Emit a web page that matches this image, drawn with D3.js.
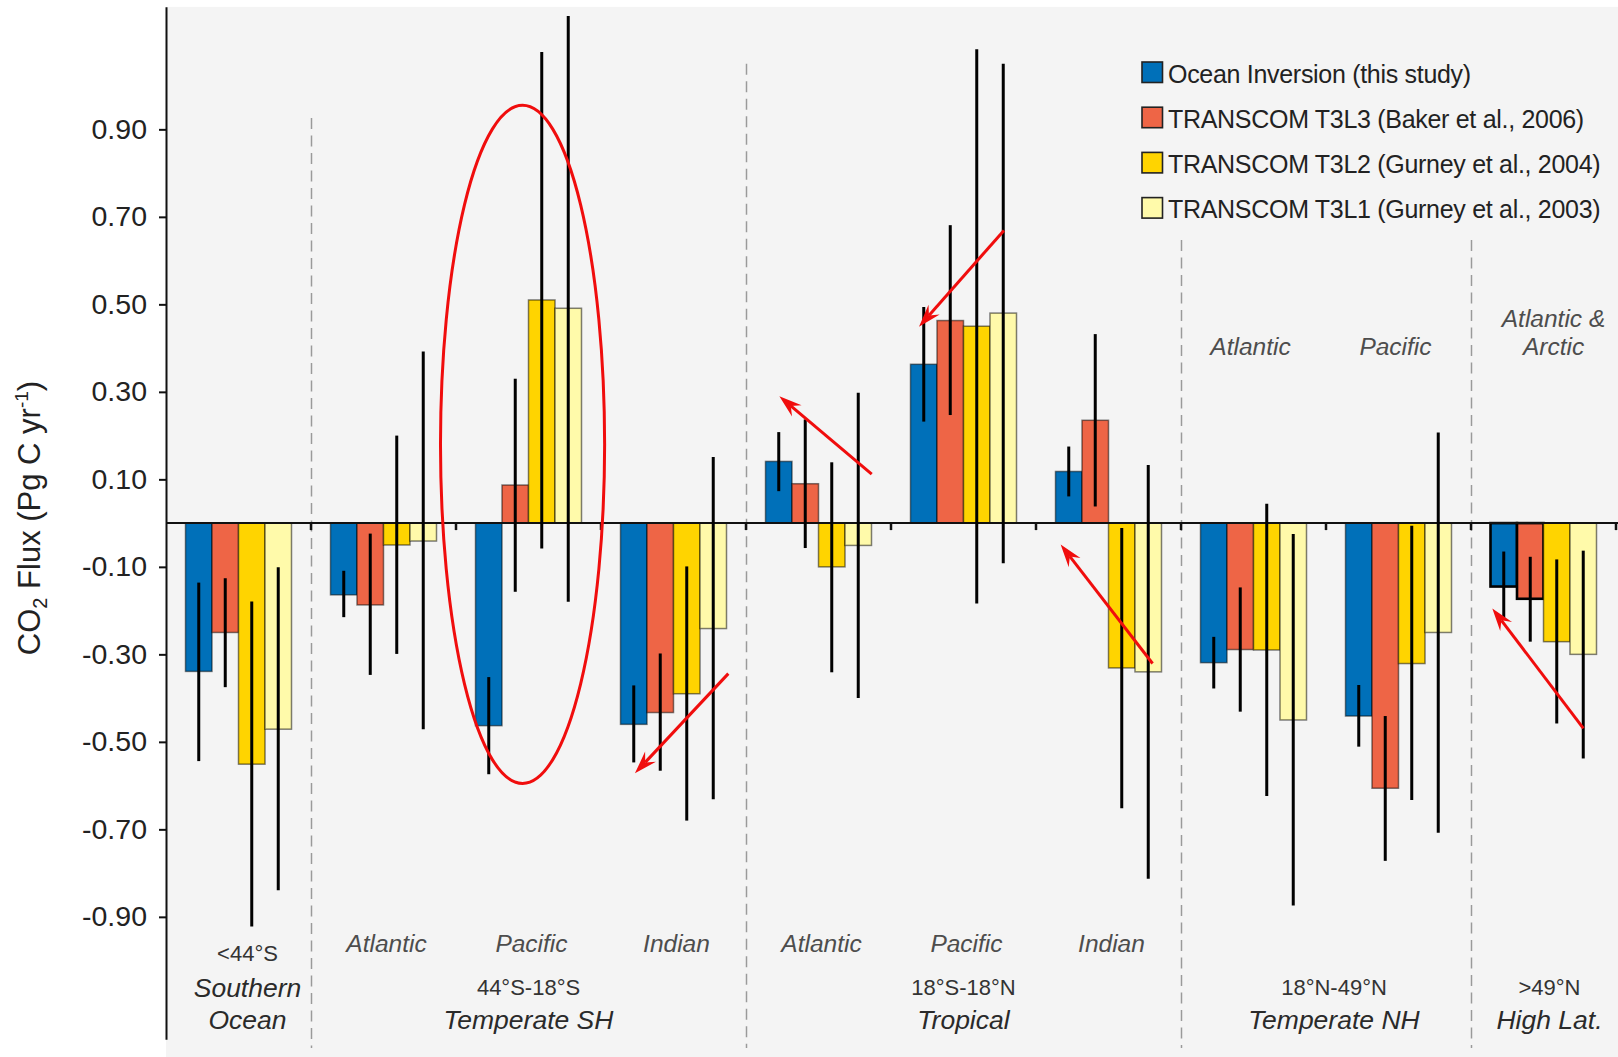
<!DOCTYPE html>
<html>
<head>
<meta charset="utf-8">
<script src="https://cdn.jsdelivr.net/npm/d3@7"></script>
<style>
  html, body { margin: 0; padding: 0; background: #ffffff; }
  svg { display: block; font-family: "Liberation Sans", Arial, Helvetica, sans-serif; }
</style>
</head>
<body>
<svg id="chart" width="1618" height="1057"></svg>
<script>
// ---- Regional ocean CO2 flux estimates (Pg C / yr) ----
const categories = [
  "Southern Ocean",
  "Temperate SH Atlantic", "Temperate SH Pacific", "Temperate SH Indian",
  "Tropical Atlantic", "Tropical Pacific", "Tropical Indian",
  "Temperate NH Atlantic", "Temperate NH Pacific",
  "High Latitudes"
];

const seriesNames = [
  "Ocean Inversion (this study)",
  "TRANSCOM T3L3 (Baker et al., 2006)",
  "TRANSCOM T3L2 (Gurney et al., 2004)",
  "TRANSCOM T3L1 (Gurney et al., 2003)"
];
const seriesColors = ["#0070b9", "#ee6546", "#ffd400", "#fffaaa"];

const oceanInversion = [-0.339, -0.164, -0.463, -0.460, 0.141, 0.363, 0.118, -0.319, -0.441, -0.145];
const oceanInversionRange = [
  [-0.544, -0.136], [-0.215, -0.109], [-0.574, -0.352], [-0.547, -0.371], [0.073, 0.208],
  [0.232, 0.494], [0.061, 0.175], [-0.378, -0.260], [-0.511, -0.370], [-0.218, -0.065]
];

const t3l3 = [-0.250, -0.187, 0.087, -0.433, 0.090, 0.463, 0.235, -0.289, -0.606, -0.173];
const t3l3Range = [
  [-0.375, -0.126], [-0.347, -0.024], [-0.157, 0.330], [-0.566, -0.298], [-0.057, 0.237],
  [0.247, 0.681], [0.038, 0.432], [-0.431, -0.147], [-0.772, -0.441], [-0.271, -0.077]
];

const t3l2 = [-0.551, -0.050, 0.510, -0.390, -0.100, 0.450, -0.331, -0.290, -0.321, -0.271];
const t3l2Range = [
  [-0.922, -0.179], [-0.299, 0.200], [-0.058, 1.077], [-0.680, -0.099], [-0.341, 0.139],
  [-0.184, 1.083], [-0.652, -0.011], [-0.624, 0.044], [-0.633, -0.006], [-0.458, -0.083]
];

const t3l1 = [-0.471, -0.041, 0.491, -0.241, -0.051, 0.480, -0.340, -0.450, -0.250, -0.300];
const t3l1Range = [
  [-0.839, -0.101], [-0.471, 0.392], [-0.180, 1.159], [-0.631, 0.151], [-0.400, 0.298],
  [-0.092, 1.050], [-0.813, 0.133], [-0.874, -0.025], [-0.708, 0.207], [-0.538, -0.063]
];

const seriesValues = [oceanInversion, t3l3, t3l2, t3l1];
const seriesRanges = [oceanInversionRange, t3l3Range, t3l2Range, t3l1Range];

// bars drawn with a heavier black outline: [category index, series index]
const boxedBars = [[9, 0], [9, 1]];

const tickValues = [0.9, 0.7, 0.5, 0.3, 0.1, -0.1, -0.3, -0.5, -0.7, -0.9];
const tickLabels = ["0.90", "0.70", "0.50", "0.30", "0.10", "-0.10", "-0.30", "-0.50", "-0.70", "-0.90"];

// region grouping along the x axis
const regionNames = [["Southern", "Ocean"], ["Temperate SH"], ["Tropical"], ["Temperate NH"], ["High Lat."]];
const regionBands = ["<44°S", "44°S-18°S", "18°S-18°N", "18°N-49°N", ">49°N"];
const regionFirst = [0, 1, 4, 7, 9];
const regionLast = [0, 3, 6, 8, 9];

const basinLower = [null, "Atlantic", "Pacific", "Indian", "Atlantic", "Pacific", "Indian", null, null, null];
const basinUpper = [null, null, null, null, null, null, null, ["Atlantic"], ["Pacific"], ["Atlantic &", "Arctic"]];

// dashed separators: category index they precede, and the flux value where each starts
const separatorAt = [1, 4, 7, 9];
const separatorTop = [0.926, 1.050, 0.647, 0.647];

// red highlight annotations, in (category, fraction of band, flux) terms
const highlightEllipse = { cat: 2, frac: 0.459, value: 0.180, halfBands: 0.566, halfValue: 0.775 };
const arrowNotes = [
  { cat: 3, from: [0.878, -0.344], to: [0.234, -0.572] },
  { cat: 4, from: [0.867, 0.112], to: [0.230, 0.290] },
  { cat: 5, from: [0.779, 0.669], to: [0.193, 0.449] },
  { cat: 6, from: [0.804, -0.321], to: [0.170, -0.049] },
  { cat: 9, from: [0.775, -0.469], to: [0.147, -0.195] }
];

// ---- scales ----
const W = 1618, H = 1057;
const axisX = 166;
const svg = d3.select("#chart");

const x = d3.scaleBand().domain(categories).range([axisX, 1616]).paddingInner(0).paddingOuter(0);
const xs = d3.scaleBand().domain(d3.range(seriesNames.length)).range([0, x.bandwidth()])
  .paddingInner(0).paddingOuter(0.736);
const y = d3.scaleLinear().domain([-1.18, 1.18]).range([1039.35, 6.85]);

// plot background
svg.append("rect")
  .attr("x", axisX).attr("y", y(1.18))
  .attr("width", W - axisX).attr("height", H - y(1.18))
  .attr("fill", "#f4f4f4");

// dashed region separators
svg.append("g").selectAll("line")
  .data(separatorAt)
  .join("line")
  .attr("x1", d => x(categories[d]) + 0.5)
  .attr("x2", d => x(categories[d]) + 0.5)
  .attr("y1", (d, i) => y(separatorTop[i]))
  .attr("y2", y(-1.2))
  .attr("stroke", "#9a9a9a")
  .attr("stroke-width", 1.5)
  .attr("stroke-dasharray", "11,6.5");

// bars
const barData = [];
seriesValues.forEach((vals, s) => {
  vals.forEach((v, i) => barData.push({ s, i, v, r: seriesRanges[s][i] }));
});
const isBoxed = d => boxedBars.some(b => b[0] === d.i && b[1] === d.s);

svg.append("g").selectAll("rect")
  .data(barData)
  .join("rect")
  .attr("x", d => x(categories[d.i]) + xs(d.s))
  .attr("width", xs.bandwidth())
  .attr("y", d => y(Math.max(0, d.v)))
  .attr("height", d => Math.abs(y(d.v) - y(0)))
  .attr("fill", d => seriesColors[d.s])
  .attr("stroke", "#000")
  .attr("stroke-opacity", d => isBoxed(d) ? 1 : 0.5)
  .attr("stroke-width", d => isBoxed(d) ? 2.6 : 1.5);

// zero line with small ticks at category boundaries
svg.append("line")
  .attr("x1", axisX).attr("x2", W)
  .attr("y1", y(0)).attr("y2", y(0))
  .attr("stroke", "#111").attr("stroke-width", 2);

const boundaryX = categories.slice(1).map(c => x(c)).concat([x.range()[1]]);
svg.append("g").selectAll("line")
  .data(boundaryX)
  .join("line")
  .attr("x1", d => d).attr("x2", d => d)
  .attr("y1", y(0)).attr("y2", y(0) + 7)
  .attr("stroke", "#111").attr("stroke-width", 2.5);

// uncertainty ranges
svg.append("g").selectAll("line")
  .data(barData)
  .join("line")
  .attr("x1", d => x(categories[d.i]) + xs(d.s) + xs.bandwidth() / 2)
  .attr("x2", d => x(categories[d.i]) + xs(d.s) + xs.bandwidth() / 2)
  .attr("y1", d => y(d.r[0]))
  .attr("y2", d => y(d.r[1]))
  .attr("stroke", "#000")
  .attr("stroke-width", 3);

// y axis
const yAxis = d3.axisLeft(y)
  .tickValues(tickValues)
  .tickFormat((d, i) => tickLabels[i])
  .tickSize(7)
  .tickSizeOuter(0)
  .tickPadding(12);

const gy = svg.append("g").attr("transform", `translate(${axisX},0)`).call(yAxis);
gy.select(".domain").attr("stroke", "#111").attr("stroke-width", 2);
gy.selectAll(".tick line").attr("stroke", "#111").attr("stroke-width", 2);
gy.selectAll(".tick text")
  .attr("fill", "#222")
  .style("font-size", "28.5px")
  .style("font-family", "'Liberation Sans', Arial, sans-serif");

// y axis title
const yTitle = svg.append("text")
  .attr("transform", "translate(40,518) rotate(-90)")
  .attr("text-anchor", "middle")
  .attr("fill", "#222")
  .style("font-size", "31px");
yTitle.append("tspan").text("CO");
yTitle.append("tspan").text("2").style("font-size", "20px").attr("dy", 7);
yTitle.append("tspan").text(" Flux (Pg C yr").attr("dy", -7);
yTitle.append("tspan").text("-1").style("font-size", "19px").attr("dy", -12);
yTitle.append("tspan").text(")").attr("dy", 12);

// basin labels
const bandCenter = i => x(categories[i]) + x.bandwidth() / 2;
const labels = svg.append("g");

basinLower.forEach((t, i) => {
  if (!t) return;
  labels.append("text")
    .attr("x", bandCenter(i) + 3).attr("y", 951.5)
    .attr("text-anchor", "middle")
    .attr("fill", "#4d4d4d")
    .style("font-style", "italic").style("font-size", "24.5px")
    .text(t);
});

basinUpper.forEach((lines, i) => {
  if (!lines) return;
  lines.forEach((t, k) => {
    labels.append("text")
      .attr("x", bandCenter(i) + (i === 9 ? 10 : -3)).attr("y", 355 - (lines.length - 1 - k) * 28.3)
      .attr("text-anchor", "middle")
      .attr("fill", "#4d4d4d")
      .style("font-style", "italic").style("font-size", "24.5px")
      .text(t);
  });
});

// region labels (latitude band + region name)
regionNames.forEach((names, r) => {
  const cx = (x(categories[regionFirst[r]]) + x(categories[regionLast[r]]) + x.bandwidth()) / 2;
  const shift = r === 0 ? 9 : (r === 3 ? 8 : (r === 4 ? 6 : 0));
  labels.append("text")
    .attr("x", cx + shift).attr("y", r === 0 ? 961 : 994.7)
    .attr("text-anchor", "middle")
    .attr("fill", "#333")
    .style("font-size", "22px")
    .text(regionBands[r]);
  names.forEach((t, k) => {
    labels.append("text")
      .attr("x", cx + shift).attr("y", 1029 - (names.length - 1 - k) * 32.5)
      .attr("text-anchor", "middle")
      .attr("fill", "#2a2a2a")
      .style("font-style", "italic").style("font-size", "26.5px")
      .text(t);
  });
});

// legend
const legend = svg.append("g").attr("transform", "translate(1142,62)");
const rows = legend.selectAll("g").data(seriesNames).join("g")
  .attr("transform", (d, i) => `translate(0,${i * 45.2})`);
rows.append("rect")
  .attr("width", 20.5).attr("height", 20.5)
  .attr("fill", (d, i) => seriesColors[i])
  .attr("stroke", "#222").attr("stroke-width", 1.6);
rows.append("text")
  .attr("x", 26).attr("y", 20.7)
  .attr("fill", "#222")
  .style("font-size", "25px")
  .style("letter-spacing", "-0.3px")
  .text(d => d);

// red annotations
const annot = svg.append("g");
const px = (cat, frac) => x(categories[cat]) + frac * x.bandwidth();

annot.append("ellipse")
  .attr("cx", px(highlightEllipse.cat, highlightEllipse.frac))
  .attr("cy", y(highlightEllipse.value))
  .attr("rx", highlightEllipse.halfBands * x.bandwidth())
  .attr("ry", y(0) - y(highlightEllipse.halfValue))
  .attr("fill", "none")
  .attr("stroke", "#f00d0d")
  .attr("stroke-width", 3);

arrowNotes.forEach(a => {
  const x1 = px(a.cat, a.from[0]), y1 = y(a.from[1]);
  const x2 = px(a.cat, a.to[0]), y2 = y(a.to[1]);
  const len = Math.hypot(x2 - x1, y2 - y1);
  const ux = (x2 - x1) / len, uy = (y2 - y1) / len;
  const head = 24, back = 15, ang = 18 * Math.PI / 180;
  const rot = (vx, vy, t) => [vx * Math.cos(t) - vy * Math.sin(t), vx * Math.sin(t) + vy * Math.cos(t)];
  const b1 = rot(-ux, -uy, ang), b2 = rot(-ux, -uy, -ang);
  annot.append("line")
    .attr("x1", x1).attr("y1", y1)
    .attr("x2", x2 - ux * back).attr("y2", y2 - uy * back)
    .attr("stroke", "#f00d0d").attr("stroke-width", 3);
  annot.append("path")
    .attr("d", `M${x2},${y2} L${x2 + b1[0] * head},${y2 + b1[1] * head} L${x2 - ux * back},${y2 - uy * back} L${x2 + b2[0] * head},${y2 + b2[1] * head} Z`)
    .attr("fill", "#f00d0d");
});
</script>
</body>
</html>
